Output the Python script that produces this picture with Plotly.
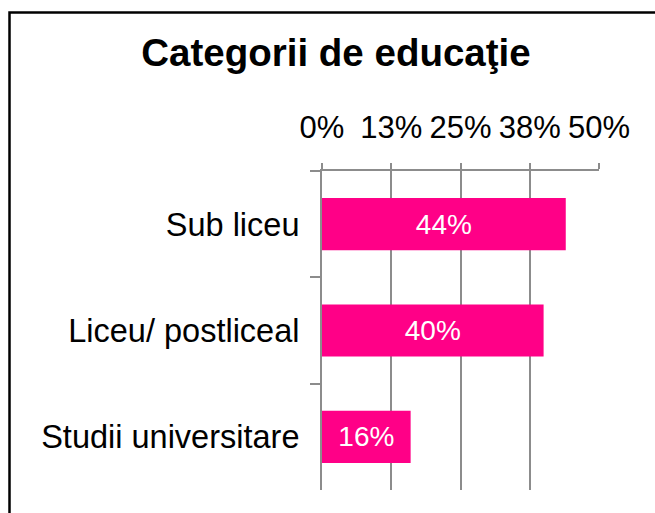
import plotly.graph_objects as go

# Share of respondents by education level
categories = ["Sub liceu", "Liceu/ postliceal", "Studii universitare"]
values = [44, 40, 16]
tick_vals = [0, 12.5, 25, 37.5, 50]
tick_text = ["0%", "13%", "25%", "38%", "50%"]
title_text = "Categorii de educaţie"

W, H = 655, 513
L, R, T, B = 322, 56, 171, 23
FONT = "Liberation Sans, Arial, sans-serif"
GRID = "#8c8c8c"
BAR = "#FF0087"

fig = go.Figure(
    go.Bar(
        x=values,
        y=categories,
        orientation="h",
        marker=dict(color=BAR, line=dict(width=0)),
        text=[f"{v}%" for v in values],
        textposition="inside",
        insidetextanchor="middle",
        textangle=0,
        textfont=dict(family=FONT, size=28, color="white"),
        cliponaxis=False,
        hoverinfo="skip",
    )
)

fig.update_layout(
    width=W,
    height=H,
    margin=dict(l=L, r=R, t=T, b=B, pad=0),
    paper_bgcolor="white",
    plot_bgcolor="white",
    showlegend=False,
    bargap=0.51,
    uniformtext=dict(mode=False),
    title=dict(
        text=f"<b>{title_text}</b>",
        font=dict(family=FONT, size=38.5, color="black"),
        x=336 / W,
        xanchor="center",
        y=1 - 39 / H,
        yanchor="top",
        yref="container",
    ),
    xaxis=dict(
        side="top",
        range=[0, 50],
        tickvals=tick_vals,
        ticktext=tick_text,
        tickfont=dict(family=FONT, size=31, color="black"),
        ticks="outside",
        ticklen=6,
        tickwidth=2,
        tickcolor=GRID,
        showgrid=True,
        gridcolor=GRID,
        gridwidth=2,
        showline=True,
        linecolor=GRID,
        linewidth=2,
        zeroline=False,
        ticklabelstandoff=13,
        fixedrange=True,
    ),
    yaxis=dict(
        categoryorder="array",
        categoryarray=categories,
        autorange="reversed",
        tickson="boundaries",
        ticks="outside",
        ticklen=10,
        tickwidth=2,
        tickcolor=GRID,
        tickfont=dict(family=FONT, size=32.5, color="black"),
        showgrid=False,
        showline=True,
        linecolor=GRID,
        linewidth=2,
        zeroline=False,
        ticklabelstandoff=14,
        fixedrange=True,
    ),
    shapes=[
        dict(
            type="rect",
            xref="paper",
            yref="paper",
            x0=(9.5 - L) / (W - L - R),
            x1=(W + 10 - L) / (W - L - R),
            y0=(H - B - (H + 10)) / (H - T - B),
            y1=(H - B - 12.5) / (H - T - B),
            line=dict(color="black", width=2.5),
            fillcolor="rgba(0,0,0,0)",
            layer="above",
        )
    ],
)

fig.write_html("out.html")
